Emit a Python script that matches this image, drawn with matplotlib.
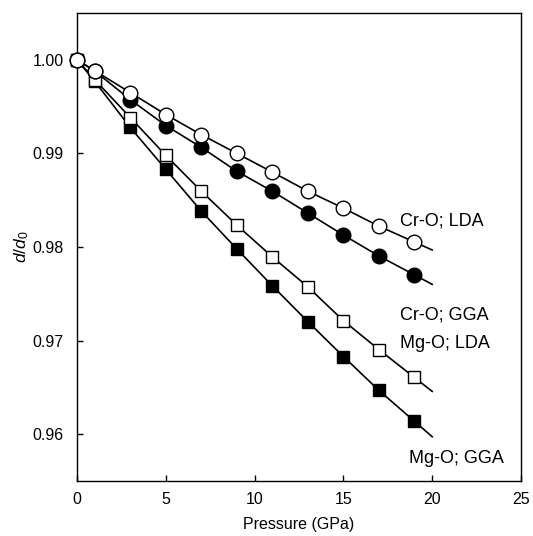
import matplotlib
matplotlib.use('Agg')
import matplotlib.pyplot as plt

plt.rcParams['font.family'] = ['Liberation Sans', 'DejaVu Sans']
plt.rcParams['mathtext.fontset'] = 'custom'
plt.rcParams['mathtext.rm'] = 'Liberation Sans'
plt.rcParams['mathtext.it'] = 'Liberation Sans:italic'

# pressure points (GPa)
pressure = [0, 1, 3, 5, 7, 9, 11, 13, 15, 17, 19]

# d/d0 values
cr_lda = [1.0, 0.99883, 0.9965, 0.99415, 0.9920, 0.9900, 0.9880, 0.98596, 0.98415, 0.98223, 0.98053]
cr_gga = [1.0, 0.99880, 0.99574, 0.99298, 0.99064, 0.98809, 0.98596, 0.98362, 0.98128, 0.97904, 0.97702]
mg_lda = [1.0, 0.99787, 0.99383, 0.98979, 0.98596, 0.98234, 0.97894, 0.97574, 0.97213, 0.96904, 0.96606]
mg_gga = [1.0, 0.99770, 0.99277, 0.98830, 0.98383, 0.97979, 0.97585, 0.97202, 0.96830, 0.96468, 0.96138]

labels = ['Cr-O; LDA', 'Cr-O; GGA', 'Mg-O; LDA', 'Mg-O; GGA']
label_pos = [(18.2, 0.98277), (18.2, 0.97277), (18.2, 0.96968), (18.7, 0.95745)]

fig = plt.figure(figsize=(5.33, 5.36), dpi=100)
ax = fig.add_axes([0.1445, 0.1026, 0.833, 0.8731])


def extend(xs, ys, xend=20):
    # line continues past the last point with the last segment's slope
    slope = (ys[-1] - ys[-2]) / (xs[-1] - xs[-2])
    return list(xs) + [xend], list(ys) + [ys[-1] + slope * (xend - xs[-1])]


series = [
    (mg_gga, 's', 'black', 8.5),
    (mg_lda, 's', 'white', 8.5),
    (cr_gga, 'o', 'black', 10.5),
    (cr_lda, 'o', 'white', 10.5),
]
for ys, mk, fc, ms in series:
    lx, ly = extend(pressure, ys)
    ax.plot(lx, ly, color='black', lw=1.2, zorder=2)
    ax.plot(pressure, ys, ls='none', marker=mk, ms=ms, mfc=fc, mec='black',
            mew=1.0, zorder=3, clip_on=False)

for lab, (tx, ty) in zip(labels, label_pos):
    ax.text(tx, ty, lab, fontsize=13, va='center', ha='left')

ax.set_xlim(0, 25)
ax.set_ylim(0.955, 1.005)
ax.set_xticks([0, 5, 10, 15, 20, 25])
ax.set_yticks([0.96, 0.97, 0.98, 0.99, 1.00])
ax.set_yticklabels(['0.96', '0.97', '0.98', '0.99', '1.00'])
ax.tick_params(direction='in', length=4, width=1, labelsize=11.5)
ax.tick_params(axis='y', pad=9.5)
ax.tick_params(axis='x', pad=8)

ax.set_xlabel('Pressure (GPa)', fontsize=11.5, labelpad=7)
ax.set_ylabel(r'$d/d_0$', fontsize=12.5, labelpad=1)

for sp in ax.spines.values():
    sp.set_linewidth(1.0)

fig.savefig('out.png', dpi=100)
